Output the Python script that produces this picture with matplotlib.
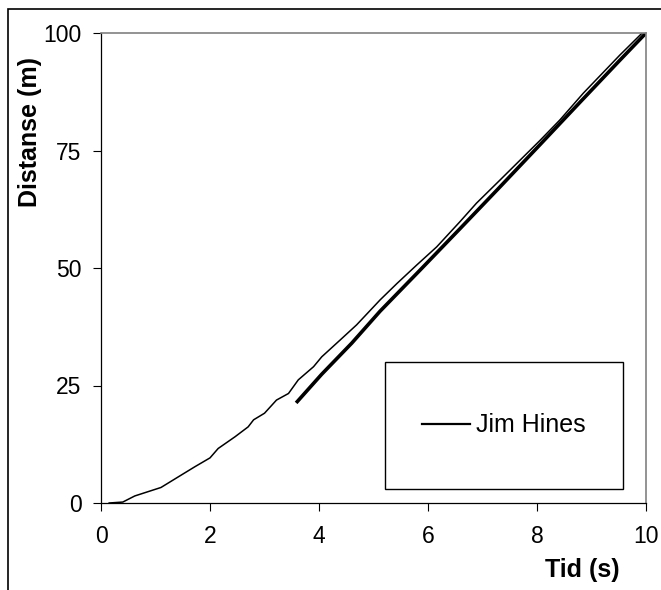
#!/usr/bin/env python3
import matplotlib.pyplot as plt
from matplotlib.lines import Line2D
from matplotlib.patches import Rectangle

plt.rcParams['font.family'] = ['Liberation Sans', 'DejaVu Sans']

# Jim Hines, measured split times (thin line)
hines_t = [0.15, 0.4, 0.62, 1.1, 1.48, 1.72, 2.0, 2.15, 2.46, 2.7, 2.8, 3.0,
           3.22, 3.44, 3.62, 3.9, 4.05, 4.39, 4.69, 5.12, 5.43, 5.79, 6.16,
           6.59, 6.89, 7.32, 8.06, 8.42, 8.85, 9.52, 9.93]
hines_d = [0, 0.2, 1.5, 3.3, 6.0, 7.7, 9.6, 11.6, 14.1, 16.2, 17.7, 19.1,
           21.9, 23.3, 26.2, 29.0, 31.1, 34.7, 37.9, 43.2, 46.7, 50.6, 54.5,
           59.9, 63.8, 68.7, 77.2, 81.5, 87.2, 95.3, 100]

# straight section (thick line)
fit_t = [3.58, 4.05, 4.6, 5.12, 5.85, 6.59, 7.3, 8.06, 8.8, 9.52, 10.0]
fit_d = [21.3, 27.4, 34.0, 40.8, 49.5, 58.4, 67.0, 76.3, 85.4, 94.2, 100.0]

x_ticks = [0, 2, 4, 6, 8, 10]
y_ticks = [0, 25, 50, 75, 100]

fig = plt.figure(figsize=(6.61, 5.90), dpi=100)
ax = fig.add_axes([101 / 661, 87 / 590, 545 / 661, 470 / 590])

ax.plot(hines_t, hines_d, color='black', lw=1.1, solid_joinstyle='round')
ax.plot(fit_t, fit_d, color='black', lw=2.6, solid_capstyle='butt')

ax.set_xlim(0, 10)
ax.set_ylim(0, 100)
ax.set_xticks(x_ticks)
ax.set_yticks(y_ticks)
ax.tick_params(direction='out', length=6, width=0.8, labelsize=16.5, colors='black')
ax.tick_params(axis='x', pad=10)
ax.tick_params(axis='y', pad=8)

for side in ['top', 'right']:
    ax.spines[side].set_color('#808080')
    ax.spines[side].set_linewidth(1.2)
for side in ['left', 'bottom']:
    ax.spines[side].set_color('black')
    ax.spines[side].set_linewidth(0.9)

# axis titles, placed like the original
ax.set_xlabel('Tid (s)', fontsize=18, fontweight='bold')
ax.xaxis.set_label_coords(0.883, -0.143)
ax.xaxis.label.set_va('center')
ax.set_ylabel('Distanse (m)', fontsize=18, fontweight='bold')
ax.yaxis.set_label_coords(-0.130, 0.79)
ax.yaxis.label.set_va('center')

# legend box
ax.add_patch(Rectangle((0.521, 0.030), 0.437, 0.270, transform=ax.transAxes,
                       facecolor='white', edgecolor='black', lw=1.0, zorder=3))
handle = Line2D([], [], color='black', lw=1.6)
ax.legend([handle], ['Jim Hines'], loc='center', bbox_to_anchor=(0.7395, 0.165),
          frameon=False, fontsize=18, handlelength=1.9, handletextpad=0.25)

# outer chart border
fig.patches.append(Rectangle((8 / 661, -0.2), 1.2, 1.2 - 9 / 590 + 0.0,
                             transform=fig.transFigure, fill=False,
                             edgecolor='black', lw=1.2))

fig.savefig('out.png', dpi=100)
